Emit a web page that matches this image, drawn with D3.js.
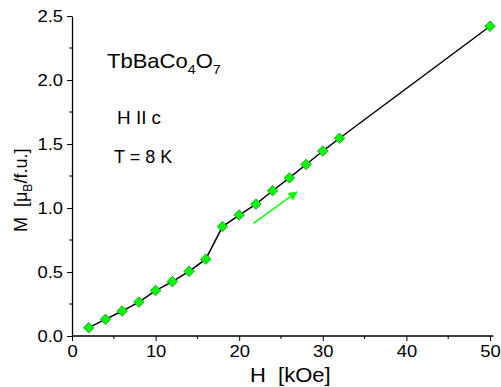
<!DOCTYPE html>
<html>
<head>
<meta charset="utf-8">
<script src="https://cdn.jsdelivr.net/npm/d3@7"></script>
<style>
	body { margin: 0; background: #fff; }
	text { font-family: "Liberation Sans", Arial, sans-serif; fill: #000; }
</style>
</head>
<body>
<svg id="chart" width="501" height="387"></svg>
<script>
// field H (kOe) and magnetisation M (muB/f.u.)
var fieldValues = [2, 4, 6, 8, 10, 12, 14, 16, 18, 20, 22, 24, 26, 28, 30, 32, 50];
var momentValues = [0.065, 0.13, 0.195, 0.265, 0.355, 0.425, 0.505, 0.60, 0.855, 0.945, 1.03, 1.135, 1.235, 1.34, 1.445, 1.545, 2.42];
var xTicks = [0, 10, 20, 30, 40, 50];
var xMinorTicks = [5, 15, 25, 35, 45];
var yTicks = [0.0, 0.5, 1.0, 1.5, 2.0, 2.5];
var yMinorTicks = [0.25, 0.75, 1.25, 1.75, 2.25];
// sweep direction arrow, from/to in data units
var arrowFrom = [21.7, 0.88];
var arrowTo = [26.9, 1.125];

var svg = d3.select("#chart");
var margin = { left: 72, right: 11, top: 16, bottom: 51 };
var width = 501, height = 387;

var x = d3.scaleLinear().domain([0, 50]).range([margin.left, width - margin.right]);
var y = d3.scaleLinear().domain([0, 2.5]).range([height - margin.bottom, margin.top]);

// the original lettering is a bit wider than Arial, stretch it sideways
function stretch(sel, sx) {
	sel.each(function() {
		var t = d3.select(this);
		var tx = +t.attr("x") || 0, ty = +t.attr("y") || 0;
		t.attr("x", 0).attr("y", 0)
			.attr("transform", "translate(" + tx + "," + ty + ") scale(" + sx + ",1)");
	});
}

// x axis
var xAxis = svg.append("g")
	.attr("transform", "translate(0," + y(0) + ")")
	.call(d3.axisBottom(x).tickValues(xTicks).tickSize(5).tickSizeOuter(0).tickPadding(5).tickFormat(d3.format("d")));
xAxis.select(".domain").remove();
xAxis.append("line")
	.attr("x1", x(0)).attr("x2", x(50.4))
	.attr("stroke", "#000").attr("stroke-width", 1.3);
xAxis.selectAll(".minor").data(xMinorTicks).enter().append("line")
	.attr("x1", function(d) { return x(d); }).attr("x2", function(d) { return x(d); })
	.attr("y1", 0).attr("y2", 3).attr("stroke", "#000");
xAxis.selectAll(".tick text").style("font-size", "16px").style("font-family", "Liberation Sans, Arial");
stretch(xAxis.selectAll(".tick text"), 1.15);

// y axis
var yAxis = svg.append("g")
	.attr("transform", "translate(" + x(0) + ",0)")
	.call(d3.axisLeft(y).tickValues(yTicks).tickSize(5).tickSizeOuter(0).tickPadding(4).tickFormat(d3.format(".1f")));
yAxis.select(".domain").attr("stroke-width", 1.3);
yAxis.selectAll(".minor").data(yMinorTicks).enter().append("line")
	.attr("y1", function(d) { return y(d); }).attr("y2", function(d) { return y(d); })
	.attr("x1", 0).attr("x2", -3).attr("stroke", "#000");
yAxis.selectAll(".tick text").style("font-size", "16px").style("font-family", "Liberation Sans, Arial");
stretch(yAxis.selectAll(".tick text"), 1.15);

// axis titles
svg.append("text")
	.attr("transform", "translate(250,382) scale(1.1,1)")
	.style("font-size", "20px")
	.attr("xml:space", "preserve")
	.text("H  [kOe]");

var yTitle = svg.append("text")
	.attr("transform", "translate(27,232) rotate(-90)")
	.attr("xml:space", "preserve")
	.style("font-size", "18px");
yTitle.append("tspan").text("M  [\u03bc");
yTitle.append("tspan").attr("dy", 5).style("font-size", "12px").text("B");
yTitle.append("tspan").attr("dy", -5).text("/f.u.]");

// annotations
var formula = svg.append("text")
	.attr("transform", "translate(107,68) scale(1.1,1)")
	.style("font-size", "20px");
formula.append("tspan").text("TbBaCo");
formula.append("tspan").attr("dy", 6).style("font-size", "13px").text("4");
formula.append("tspan").attr("dy", -6).text("O");
formula.append("tspan").attr("dy", 6).style("font-size", "13px").text("7");

svg.append("text").attr("transform", "translate(117,124) scale(1.05,1)").style("font-size", "18px").text("H II c");
svg.append("text").attr("transform", "translate(114,163)").style("font-size", "18px").text("T = 8 K");

// data line
var points = fieldValues.map(function(h, i) { return [h, momentValues[i]]; });
svg.append("path")
	.datum(points)
	.attr("fill", "none")
	.attr("stroke", "#000")
	.attr("stroke-width", 1.5)
	.attr("d", d3.line().x(function(d) { return x(d[0]); }).y(function(d) { return y(d[1]); }));

svg.selectAll(".pt").data(points).enter().append("path")
	.attr("class", "pt")
	.attr("transform", function(d) { return "translate(" + x(d[0]) + "," + y(d[1]) + ") rotate(45)"; })
	.attr("d", d3.symbol().type(d3.symbolSquare).size(56))
	.attr("fill", "#00ff00")
	.attr("stroke", "#2e8b2e")
	.attr("stroke-width", 0.8);

// arrow
svg.append("defs").append("marker")
	.attr("id", "head")
	.attr("viewBox", "0 0 10 10")
	.attr("refX", 9).attr("refY", 5)
	.attr("markerWidth", 11).attr("markerHeight", 9)
	.attr("markerUnits", "userSpaceOnUse")
	.attr("orient", "auto")
	.append("path").attr("d", "M0,0 L10,5 L0,10 z").attr("fill", "#00ff00");
svg.append("line")
	.attr("x1", x(arrowFrom[0])).attr("y1", y(arrowFrom[1]))
	.attr("x2", x(arrowTo[0])).attr("y2", y(arrowTo[1]))
	.attr("stroke", "#00ff00")
	.attr("stroke-width", 1.5)
	.attr("marker-end", "url(#head)");
</script>
</body>
</html>
